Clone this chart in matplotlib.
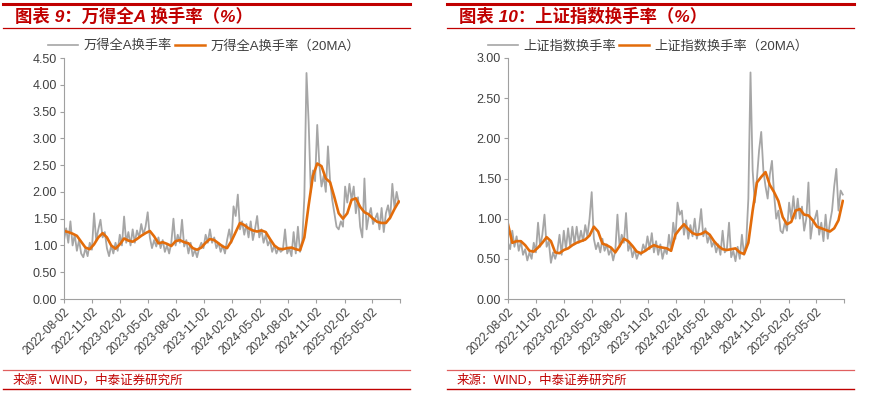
import matplotlib
matplotlib.use("Agg")
import matplotlib.pyplot as plt
import pandas as pd
from matplotlib.lines import Line2D

plt.rcParams["font.family"] = ["Liberation Sans", "Noto Sans CJK SC", "DejaVu Sans"]

# ==========================
# Dados
# ==========================
start_date = "2022-08-02"

# 万得全A 换手率 - amostra semanal
wind_a = [
    1.10, 1.32, 1.05, 1.45, 1.00, 1.20, 0.90, 1.10, 0.85, 0.78,
    0.95, 0.80, 1.05, 0.92, 1.60, 1.10, 1.30, 1.48, 1.15, 1.25,
    0.95, 0.80, 1.00, 0.85, 1.05, 0.90, 1.20, 1.00, 1.54, 1.05,
    1.25, 1.00, 1.30, 1.05, 1.28, 1.15, 1.40, 1.20, 1.35, 1.62,
    1.15, 0.95, 1.10, 0.98, 1.15, 0.95, 1.10, 0.88, 1.00, 0.85,
    1.05, 1.50, 1.00, 1.20, 1.05, 1.48, 0.98, 1.10, 0.85, 1.05,
    0.80, 0.92, 0.78, 0.95, 1.05, 0.95, 1.20, 1.05, 1.30, 1.05,
    1.15, 0.95, 1.05, 0.88, 1.00, 0.85, 1.10, 1.30, 1.05, 1.73,
    1.55, 1.95, 1.30, 1.45, 1.20, 1.40, 1.15, 1.45, 1.10, 1.30,
    1.55, 1.15, 1.30, 1.05, 1.20, 1.00, 1.10, 0.88, 1.00, 0.85,
    0.95, 0.88, 0.92, 1.30, 0.85, 0.95, 0.80, 1.25, 0.85, 1.35,
    0.88, 1.08, 1.90, 4.22, 3.30, 2.00, 2.40, 2.20, 3.25, 2.50,
    2.10, 2.30, 2.00, 2.85, 2.20, 1.85, 1.60, 1.35, 1.30, 1.45,
    1.35, 2.10, 1.80, 2.15, 1.85, 2.10, 1.60, 1.90, 1.35, 1.15,
    2.25, 1.30, 1.55, 1.70, 1.40, 1.50, 1.60, 1.30, 1.70, 1.25,
    1.60, 1.75, 1.50, 2.15, 1.70, 2.00, 1.80,
]

# 万得全A 换手率 (20MA) - amostra quinzenal
wind_a_ma = [
    1.27, 1.25, 1.22, 1.18, 1.07, 0.96, 0.93, 1.02, 1.15, 1.23,
    1.15, 1.00, 0.94, 1.02, 1.13, 1.09, 1.07, 1.12, 1.18, 1.23,
    1.27, 1.17, 1.04, 1.06, 1.03, 0.99, 1.08, 1.10, 1.06, 1.04,
    0.95, 0.92, 0.96, 1.05, 1.12, 1.10, 1.04, 0.98, 0.95, 1.08,
    1.25, 1.42, 1.38, 1.32, 1.28, 1.26, 1.28, 1.25, 1.12, 1.00,
    0.94, 0.93, 0.95, 0.96, 0.93, 0.91, 1.15, 1.75, 2.30, 2.53,
    2.48, 2.25, 2.18, 1.90, 1.60, 1.50, 1.60, 1.85, 1.88, 1.72,
    1.62, 1.58, 1.50, 1.44, 1.42, 1.42, 1.52, 1.68, 1.82,
]

# 上证指数 换手率 - amostra semanal
sse = [
    0.70, 0.62, 0.85, 0.65, 0.78, 0.60, 0.72, 0.55, 0.62, 0.48,
    0.58, 0.50, 0.70, 0.58, 0.95, 0.65, 0.80, 1.05, 0.65, 0.72,
    0.45, 0.58, 0.50, 0.60, 0.80, 0.55, 0.85, 0.62, 0.88, 0.65,
    0.90, 0.68, 0.90, 0.70, 0.85, 0.72, 0.92, 0.78, 1.00, 1.33,
    0.75, 0.62, 0.70, 0.58, 0.75, 0.60, 0.68, 0.55, 0.62, 0.48,
    0.60, 1.05, 0.65, 0.80, 0.70, 1.07, 0.60, 0.68, 0.52, 0.62,
    0.50, 0.58, 0.55, 0.68, 0.60, 0.78, 0.62, 0.82, 0.58, 0.72,
    0.55, 0.68, 0.50, 0.62, 0.56, 0.80, 0.60, 0.95, 0.75, 1.20,
    1.05, 1.10, 0.80, 0.98, 0.75, 0.92, 0.78, 1.00, 0.75, 0.88,
    1.12, 0.78, 0.88, 0.70, 0.80, 0.65, 0.72, 0.58, 0.68, 0.55,
    0.85, 0.58, 0.62, 0.95, 0.52, 0.60, 0.47, 0.65, 0.50, 0.80,
    0.55, 0.70, 1.25, 2.82, 1.60, 1.20, 1.50, 1.85, 2.08, 1.60,
    1.40, 1.25, 1.55, 1.72, 1.30, 1.00, 1.10, 0.85, 0.82, 0.95,
    0.85, 1.20, 1.00, 1.28, 1.00, 1.25, 1.00, 1.15, 0.85, 1.00,
    1.45, 0.75, 0.95, 1.00, 1.10, 0.80, 0.95, 0.72, 1.05, 0.75,
    0.95, 1.10, 1.40, 1.62, 1.10, 1.35, 1.30,
]

# 上证指数 换手率 (20MA) - amostra quinzenal
sse_ma = [
    0.93, 0.70, 0.72, 0.72, 0.67, 0.60, 0.59, 0.64, 0.70, 0.77,
    0.72, 0.58, 0.57, 0.61, 0.63, 0.67, 0.70, 0.72, 0.74, 0.79,
    0.90, 0.84, 0.69, 0.67, 0.64, 0.58, 0.66, 0.75, 0.72, 0.66,
    0.59, 0.57, 0.60, 0.64, 0.67, 0.65, 0.64, 0.63, 0.60, 0.80,
    0.87, 0.93, 0.87, 0.82, 0.80, 0.81, 0.84, 0.80, 0.72, 0.66,
    0.62, 0.61, 0.62, 0.63, 0.58, 0.56, 0.70, 1.10, 1.45, 1.52,
    1.58, 1.42, 1.33, 1.22, 1.02, 0.93, 0.96, 1.10, 1.12, 1.05,
    1.04, 0.98, 0.90, 0.88, 0.86, 0.84, 0.88, 0.98, 1.22,
]

tick_labels = [
    "2022-08-02", "2022-11-02", "2023-02-02", "2023-05-02",
    "2023-08-02", "2023-11-02", "2024-02-02", "2024-05-02",
    "2024-08-02", "2024-11-02", "2025-02-02", "2025-05-02",
]
end_date = "2025-08-02"

tick_dates = pd.to_datetime(tick_labels + [end_date])
dates_daily = pd.date_range(start_date, periods=len(wind_a), freq="7D")
dates_ma = pd.date_range(start_date, periods=len(wind_a_ma), freq="14D")

RED = "#c00000"
GRAY = "#a6a6a6"
ORANGE = "#e36c0a"
TXT = "#404040"
AXC = "#a0a0a0"

fig = plt.figure(figsize=(8.88, 3.97), dpi=100)

paineis = [
    dict(x0=0, title="图表 9：万得全A 换手率（%）", name="万得全A换手率",
         y=wind_a, ma=wind_a_ma, ymax=4.5, yticks=[i * 0.5 for i in range(10)],
         leg_x=204),
    dict(x0=444, title="图表 10：上证指数换手率（%）", name="上证指数换手率",
         y=sse, ma=sse_ma, ymax=3.0, yticks=[i * 0.5 for i in range(7)],
         leg_x=648),
]

W, H = 888.0, 397.0

for p in paineis:
    x0 = p["x0"]
    ax = fig.add_axes([(x0 + 64) / W, 1 - 299 / H, 336 / W, 241 / H])
    ax.plot(dates_daily, p["y"], color=GRAY, lw=1.3)
    ax.plot(dates_ma, p["ma"], color=ORANGE, lw=1.9)
    ax.set_xlim(pd.Timestamp(start_date), pd.Timestamp(end_date))
    ax.set_ylim(0, p["ymax"])
    ax.set_yticks(p["yticks"])
    ax.set_yticklabels([f"{v:.2f}" for v in p["yticks"]], fontsize=9, color=TXT)
    ax.set_xticks(tick_dates)
    ax.set_xticklabels(tick_labels + [""], rotation=45, ha="right",
                       rotation_mode="anchor", fontsize=8.5, color=TXT)
    for s in ["top", "right"]:
        ax.spines[s].set_visible(False)
    for s in ["left", "bottom"]:
        ax.spines[s].set_color(AXC)
        ax.spines[s].set_linewidth(0.8)
    ax.tick_params(axis="both", direction="out", length=3, color=AXC, width=0.8, pad=2)
    ax.patch.set_alpha(0)

    # legenda
    handles = [Line2D([], [], color=GRAY, lw=1.2), Line2D([], [], color=ORANGE, lw=1.8)]
    fig.legend(handles, [p["name"], p["name"] + "（20MA）"], loc="center",
               bbox_to_anchor=(p["leg_x"] / W, 1 - 46 / H), ncol=2, frameon=False,
               fontsize=9.5, handlelength=2.3, handletextpad=0.4, columnspacing=0.2,
               labelcolor=TXT)

    # título e linhas vermelhas
    fig.add_artist(Line2D([(x0 + 3) / W, (x0 + 410) / W], [1 - 3.5 / H] * 2,
                          color=RED, lw=2.2))
    fig.text((x0 + 15) / W, 1 - 16.5 / H, p["title"], color=RED, fontsize=12.5,
             fontweight="bold", style="italic", va="center", ha="left")
    fig.add_artist(Line2D([(x0 + 3) / W, (x0 + 410) / W], [1 - 28 / H] * 2,
                          color=RED, lw=0.9))

    # rodapé
    fig.add_artist(Line2D([(x0 + 3) / W, (x0 + 410) / W], [1 - 370 / H] * 2,
                          color="#e06060", lw=0.9))
    fig.text((x0 + 13) / W, 1 - 380 / H, "来源：WIND，中泰证券研究所", color=RED,
             fontsize=9, va="center", ha="left")
    fig.add_artist(Line2D([(x0 + 3) / W, (x0 + 410) / W], [1 - 389 / H] * 2,
                          color=RED, lw=1.0))

fig.savefig("out.png", dpi=100)
plt.close(fig)
